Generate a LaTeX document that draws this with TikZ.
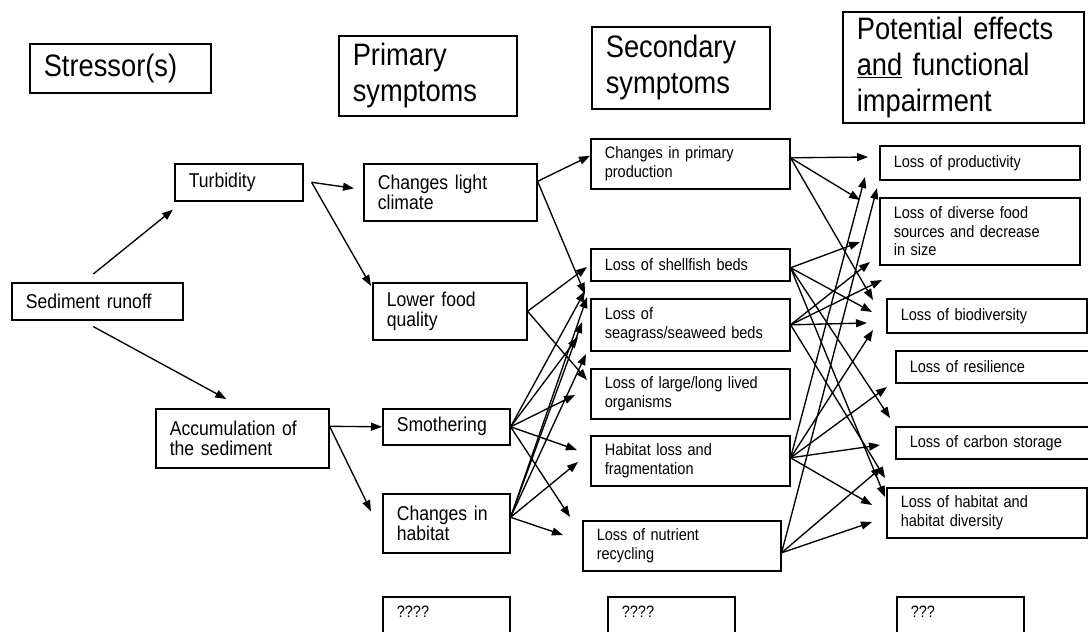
\documentclass[tikz,border=0pt]{standalone}
\usepackage{fontspec}
\setmainfont{Liberation Sans}
\newfontfamily\narrowsans[FakeStretch=0.88]{Liberation Sans}
\usetikzlibrary{arrows.meta}
\newcommand\hd{\narrowsans\fontsize{31}{36}\selectfont}
\newcommand\pfnt{\narrowsans\fontsize{20}{20.5}\selectfont}
\newcommand\sfnt{\narrowsans\fontsize{16.5}{18.5}\selectfont}
\newcommand\bx[7]{%
  \pgfmathsetmacro\bxw{#4-#2-28}%
  \pgfmathsetmacro\bxh{#5-#3}%
  \node[bx,font=#6,text width=\bxw pt,minimum height=\bxh pt] (#1) at (#2,#3) {#7};}
\begin{document}
\begin{tikzpicture}[x=1pt,y=-1pt,
  bx/.style={draw,line width=1.6pt,anchor=north west,inner xsep=14pt,inner ysep=2pt,align=left},
  arr/.style={line width=1.35pt,-{Triangle[length=11pt,width=8pt]}}]
\useasboundingbox (0,0) rectangle (1088,632);
\fill[white] (0,0) rectangle (1088,632);
% headers
\bx{hS}{29}{43}{210}{92}{\hd}{Stressor(s)}
\bx{hP}{338}{35}{516}{115}{\hd}{Primary\\symptoms}
\bx{hSec}{591}{26}{769}{108}{\hd}{Secondary\\symptoms}
\bx{hE}{842}{11}{1083}{122}{\hd}{Potential effects\\\underline{and} functional\\impairment}
% stressors
\bx{sed}{11}{282}{182}{319}{\pfnt}{Sediment runoff}
\bx{turb}{174}{163}{302}{200}{\pfnt}{Turbidity}
\bx{acc}{155}{408}{328}{467}{\pfnt}{Accumulation of\\the sediment}
% primary
\bx{light}{363}{163}{536}{220}{\pfnt}{Changes light\\climate}
\bx{food}{372}{282}{526}{339}{\pfnt}{Lower food\\quality}
\bx{smo}{382}{408}{509}{444}{\pfnt}{Smothering}
\bx{hab}{382}{493}{509}{552}{\pfnt}{Changes in\\habitat}
% secondary
\bx{prod}{590}{138}{789}{188}{\sfnt}{Changes in primary\\production}
\bx{shell}{590}{248}{789}{280}{\sfnt}{Loss of shellfish beds}
\bx{sea}{590}{298}{789}{350}{\sfnt}{Loss of\\seagrass/seaweed beds}
\bx{large}{590}{368}{789}{418}{\sfnt}{Loss of large/long lived\\organisms}
\bx{frag}{590}{435}{789}{485}{\sfnt}{Habitat loss and\\fragmentation}
\bx{nut}{582}{520}{780}{570}{\sfnt}{Loss of nutrient\\recycling}
% effects
\bx{eprod}{879}{145}{1079}{179}{\sfnt}{Loss of productivity}
\bx{efood}{879}{197}{1079}{264}{\sfnt}{Loss of diverse food\\sources and decrease\\in size}
\bx{ebio}{886}{298}{1086}{332}{\sfnt}{Loss of biodiversity}
\bx{eres}{895}{350}{1100}{382}{\sfnt}{Loss of resilience}
\bx{ecarb}{895}{426}{1100}{458}{\sfnt}{Loss of carbon storage}
\bx{ehab}{886}{487}{1086}{537}{\sfnt}{Loss of habitat and\\habitat diversity}
% bottom
\node[bx,font=\sfnt,text width=99pt,text height=12pt,text depth=40pt,inner ysep=9pt] (q1) at (382,596) {????};
\node[bx,font=\sfnt,text width=99pt,text height=12pt,text depth=40pt,inner ysep=9pt] (q2) at (607,596) {????};
\node[bx,font=\sfnt,text width=99pt,text height=12pt,text depth=40pt,inner ysep=9pt] (q3) at (896,596) {???};
% free arrow ends: primary -> secondary
\coordinate (p1) at (585,294);
\coordinate (p2) at (587,267);
\coordinate (p3) at (587,380);
\coordinate (p4) at (585,291);
\coordinate (p5) at (578,337);
\coordinate (p6) at (575,395);
\coordinate (p7) at (577,450);
\coordinate (p8) at (570,517);
\coordinate (p9) at (587,297);
\coordinate (p10) at (582,322);
\coordinate (p11) at (586,354);
\coordinate (p12) at (578,462);
\coordinate (p13) at (563,535);
% free arrow ends: secondary -> effects
\coordinate (ea) at (868,157);
\coordinate (eb) at (860,200);
\coordinate (eh) at (873,300);
\coordinate (ee) at (860,242);
\coordinate (ei) at (872,312);
\coordinate (el) at (890,418);
\coordinate (eq) at (885,497);
\coordinate (ej) at (867,323);
\coordinate (ef) at (870,262);
\coordinate (eg) at (882,280);
\coordinate (ep) at (885,478);
\coordinate (em) at (887,387);
\coordinate (en) at (880,445);
\coordinate (er) at (872,505);
\coordinate (ec) at (865,177);
\coordinate (ek) at (873,330);
\coordinate (es) at (872,522);
\coordinate (eo) at (882,467);
\coordinate (ed) at (877,188);
% stressor arrows
\draw[arr] ([shift={(-4pt,8pt)}]sed.north) -- ([shift={(-1pt,-8pt)}]turb.south west);
\draw[arr] ([shift={(-4pt,-6pt)}]sed.south) -- ([shift={(-16pt,9pt)}]acc.north);
\draw[arr] ([xshift=8pt]turb.east) -- ([shift={(-9pt,4pt)}]light.west);
\draw[arr] ([xshift=8pt]turb.east) -- ([shift={(-1pt,-4pt)}]food.north west);
\draw[arr] ([yshift=12pt]acc.east) -- (smo.west);
\draw[arr] ([yshift=12pt]acc.east) -- ([shift={(-11pt,12pt)}]hab.west);
% primary -> secondary
\draw[arr] ([yshift=11pt]light.east) -- ([yshift=8pt]prod.west);
\draw[arr] ([yshift=11pt]light.east) -- (p1);
\draw[arr] (food.east) -- (p2);
\draw[arr] (food.east) -- (p3);
\foreach \t in {p4,p5,p6,p7,p8} \draw[arr] (smo.east) -- (\t);
\foreach \t in {p9,p10,p11,p12,p13} \draw[arr] ([yshift=6pt]hab.east) -- (\t);
% secondary -> effects
\foreach \t in {ea,eb,eh} \draw[arr] ([yshift=6pt]prod.east) -- (\t);
\foreach \t in {ee,ei,el,eq} \draw[arr] ([yshift=-3pt]shell.east) -- (\t);
\foreach \t in {ej,ef,eg,ep} \draw[arr] (sea.east) -- (\t);
\foreach \t in {em,en,er,ec,ek} \draw[arr] ([yshift=3pt]frag.east) -- (\t);
\foreach \t in {es,eo,ed} \draw[arr] ([yshift=-7pt]nut.east) -- (\t);
\end{tikzpicture}
\end{document}
